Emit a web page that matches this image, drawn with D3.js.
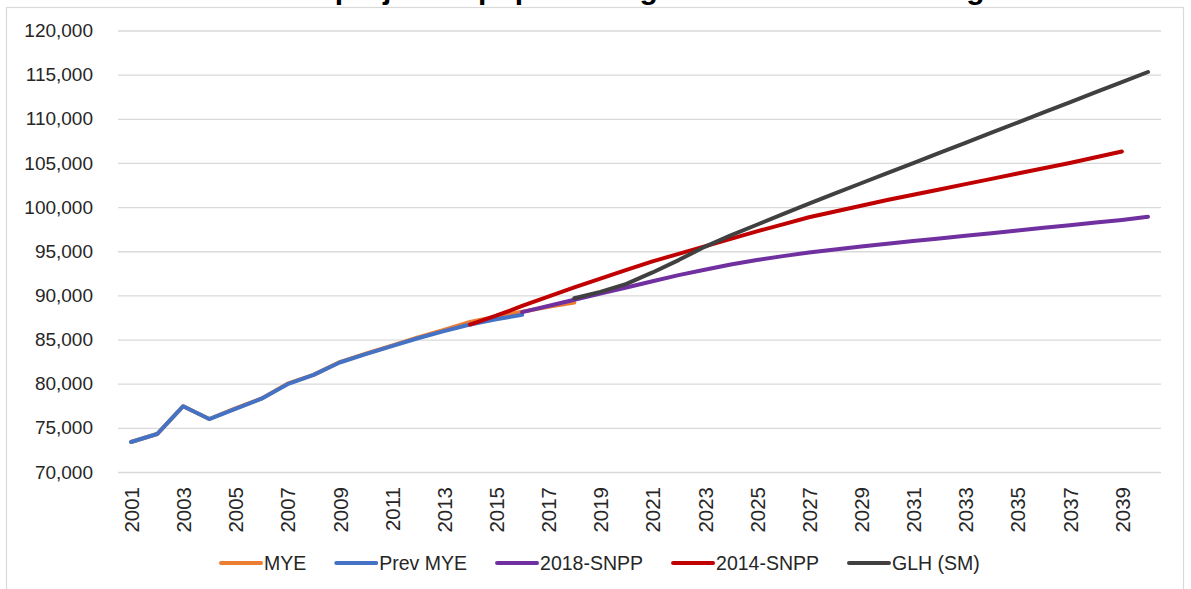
<!DOCTYPE html>
<html>
<head>
<meta charset="utf-8">
<script src="https://cdn.jsdelivr.net/npm/d3@7"></script>
<style>
  html, body { margin: 0; padding: 0; background: #fff; }
  svg { display: block; font-family: "Liberation Sans", Arial, sans-serif; }
</style>
</head>
<body>
<svg id="chart" width="1191" height="589"></svg>
<script>
// Years on the category axis
const years = d3.range(2001, 2041);

// Mid-year estimates
const myeYears = d3.range(2001, 2019);
const myeValues = [73400, 74300, 77450, 76000, 77200, 78300, 80000, 81000, 82450, 83400,
                   84300, 85250, 86100, 87000, 87600, 88150, 88700, 89200];

// Previous mid-year estimates
const prevMyeYears = d3.range(2001, 2017);
const prevMyeValues = [73400, 74300, 77450, 76000, 77150, 78300, 79950, 81000, 82400, 83350,
                       84250, 85150, 85950, 86700, 87300, 87800];

// 2018-based sub-national population projections
const snpp2018Years = d3.range(2016, 2041);
const snpp2018Values = [88100, 88800, 89500, 90200, 90900, 91600, 92300, 92900, 93500, 94000,
                        94450, 94850, 95200, 95550, 95850, 96150, 96450, 96750, 97050, 97350,
                        97650, 97950, 98250, 98550, 98900];

// 2014-based sub-national population projections
const snpp2014Years = d3.range(2014, 2040);
const snpp2014Values = [86700, 87700, 88800, 89850, 90900, 91900, 92900, 93850, 94700, 95550,
                        96400, 97250, 98050, 98850, 99500, 100150, 100800, 101400, 102000, 102600,
                        103200, 103800, 104400, 105000, 105650, 106300];

// Government local housing need (standard method)
const glhYears = d3.range(2018, 2041);
const glhValues = [89670, 90400, 91300, 92600, 94000, 95500, 96800, 98000, 99200, 100400,
                   101550, 102700, 103840, 104990, 106130, 107280, 108430, 109570, 110720, 111860,
                   113010, 114150, 115300];

// Axis ticks
const yTicks = d3.range(70000, 120001, 5000);
const xTickYears = years.filter(y => y % 2 === 1);

const seriesNames = ["MYE", "Prev MYE", "2018-SNPP", "2014-SNPP", "GLH (SM)"];
const seriesColors = ["#ED7D31", "#4472C4", "#7030A0", "#C00000", "#404040"];
const seriesYears = [myeYears, prevMyeYears, snpp2018Years, snpp2014Years, glhYears];
const seriesValues = [myeValues, prevMyeValues, snpp2018Values, snpp2014Values, glhValues];

const svg = d3.select("#chart");
const W = 1191, H = 589;
const plot = { left: 118, right: 1161, top: 30.5, bottom: 472 };

svg.append("rect").attr("width", W).attr("height", H).attr("fill", "#fff");

// Chart area border
svg.append("rect")
  .attr("x", 6.5).attr("y", 7.5)
  .attr("width", 1177).attr("height", 620)
  .attr("fill", "none").attr("stroke", "#d9d9d9").attr("stroke-width", 1.2);

// Title (sits at the top edge)
svg.append("text")
  .attr("x", 623).attr("y", -1)
  .attr("text-anchor", "middle")
  .attr("font-size", 30).attr("font-weight", "bold").attr("fill", "#000")
  .text("Actual and projected population growth \u2013 East Cambridgeshire");

const x = d3.scalePoint().domain(years).range([plot.left, plot.right]).padding(0.5);
const y = d3.scaleLinear().domain([70000, 120000]).range([plot.bottom, plot.top]);

// Gridlines and y labels
const yAxis = d3.axisLeft(y).tickValues(yTicks).tickSize(-(plot.right - plot.left))
  .tickPadding(25).tickFormat(d3.format(","));
const gy = svg.append("g").attr("transform", `translate(${plot.left},0)`).call(yAxis);
gy.select(".domain").remove();
gy.selectAll(".tick line").attr("stroke", "#d9d9d9").attr("stroke-width", 1.3);
gy.selectAll(".tick text")
  .attr("font-size", 19).attr("fill", "#262626")
  .attr("font-family", "Liberation Sans, Arial, sans-serif");

// X labels, rotated
const xAxis = d3.axisBottom(x).tickValues(xTickYears).tickSize(0).tickFormat(d3.format("d"));
const gx = svg.append("g").attr("transform", `translate(0,${plot.bottom})`).call(xAxis);
gx.select(".domain").remove();
gx.selectAll(".tick text")
  .attr("font-size", 20.5).attr("fill", "#262626")
  .attr("font-family", "Liberation Sans, Arial, sans-serif")
  .attr("text-anchor", "end")
  .attr("transform", "rotate(-90)")
  .attr("x", -15).attr("y", 0).attr("dy", "0.36em");

// Series lines
const line = d3.line()
  .x(d => x(d[0]))
  .y(d => y(d[1]));

seriesNames.forEach((name, i) => {
  const pts = seriesYears[i].map((yr, j) => [yr, seriesValues[i][j]]);
  svg.append("path")
    .datum(pts)
    .attr("d", line)
    .attr("fill", "none")
    .attr("stroke", seriesColors[i])
    .attr("stroke-width", 4)
    .attr("stroke-linejoin", "round")
    .attr("stroke-linecap", "round");
});

// Legend
const legend = svg.append("g").attr("transform", "translate(220,563)");
let lx = 0;
seriesNames.forEach((name, i) => {
  legend.append("line")
    .attr("x1", lx + 1).attr("x2", lx + 41).attr("y1", 0).attr("y2", 0)
    .attr("stroke", seriesColors[i]).attr("stroke-width", 4).attr("stroke-linecap", "round");
  const t = legend.append("text")
    .attr("x", lx + 44).attr("y", 0).attr("dy", "0.36em")
    .attr("font-size", 19.5).attr("fill", "#262626")
    .text(name);
  lx += 44 + t.node().getComputedTextLength() + 29;
});
</script>
</body>
</html>
